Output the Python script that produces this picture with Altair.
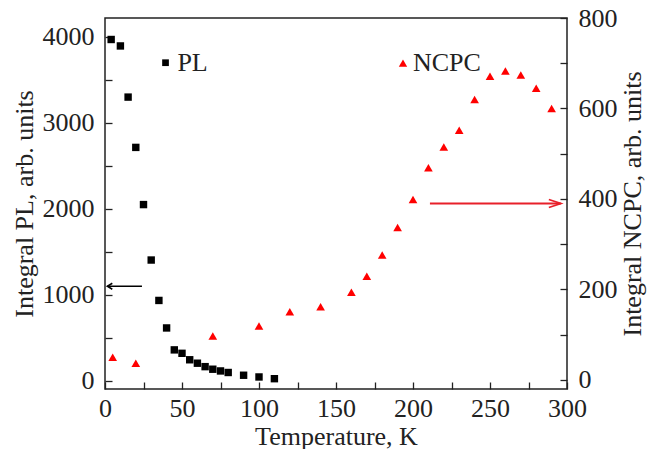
import altair as alt
import pandas as pd

# ---- data ----
temp_pl = [4, 10, 15, 20, 25, 30, 35, 40, 45, 50, 55, 60, 65, 70, 75, 80, 90, 100, 110]
pl_values = [3970, 3895, 3300, 2715, 2050, 1405, 935, 615, 360, 320, 245, 205, 165, 135, 115, 97, 65, 45, 25]

temp_ncpc = [5, 20, 70, 100, 120, 140, 160, 170, 180, 190, 200, 210, 220, 230, 240, 250, 260, 270, 280, 290]
ncpc_values = [50, 37, 97, 119, 151, 162, 194, 229, 276, 337, 399, 469, 515, 552, 620, 671, 683, 674, 645, 600]

x_ticks = list(range(0, 301, 25))
pl_ticks = list(range(0, 4001, 500))
ncpc_ticks = list(range(0, 801, 100))

legend_pl_label = ["PL"]
legend_pl_pos = [39.3, 47, 3700]        # symbol T, text T, value
legend_ncpc_label = ["NCPC"]
legend_ncpc_pos = [193.5, 200, 700]

pl_arrow_T = [24, 1.5]
pl_arrow_val = [1100]
ncpc_arrow_T = [211, 296]
ncpc_arrow_val = [390]

FONT = "Liberation Serif"
TXT = "#222222"
FS = 26

# ---- tables ----
df_pl = pd.DataFrame({"T": temp_pl, "val": pl_values})
df_ncpc = pd.DataFrame({"T": temp_ncpc, "val": ncpc_values})
df_pl_leg_sym = pd.DataFrame({"T": [legend_pl_pos[0]], "val": [legend_pl_pos[2]]})
df_pl_leg_txt = pd.DataFrame({"T": [legend_pl_pos[1]], "val": [legend_pl_pos[2]], "lab": legend_pl_label})
df_nc_leg_sym = pd.DataFrame({"T": [legend_ncpc_pos[0]], "val": [legend_ncpc_pos[2]]})
df_nc_leg_txt = pd.DataFrame({"T": [legend_ncpc_pos[1]], "val": [legend_ncpc_pos[2]], "lab": legend_ncpc_label})
df_pl_arrow = pd.DataFrame({"T": [pl_arrow_T[0]], "T2": [pl_arrow_T[1]], "val": pl_arrow_val})
df_pl_head = pd.DataFrame({"T": [pl_arrow_T[1]], "val": pl_arrow_val})
df_nc_arrow = pd.DataFrame({"T": [ncpc_arrow_T[0]], "T2": [ncpc_arrow_T[1]], "val": ncpc_arrow_val})
df_nc_head = pd.DataFrame({"T": [ncpc_arrow_T[1]], "val": ncpc_arrow_val})

axis_style = dict(labelFont=FONT, labelFontSize=FS, labelColor=TXT,
                  titleFont=FONT, titleFontSize=FS, titleFontWeight="normal", titleColor=TXT,
                  tickColor="#222222", tickWidth=1.3, domain=False, grid=False,
                  tickSize=7, offset=-7, labelFlush=False, labelOverlap=False, format="d")

# ---- scales / axes ----
x_scale = alt.Scale(domain=[0, 300], nice=False, zero=False)
x_axis = alt.Axis(values=x_ticks, labelExpr="datum.value % 50 === 0 ? datum.label : ''",
                  labelPadding=6, title="Temperature, K", titlePadding=2, **axis_style)

yl_scale = alt.Scale(domain=[-95, 4220], nice=False, zero=False)
yl_axis = alt.Axis(orient="left", values=pl_ticks, labelExpr="datum.value % 1000 === 0 ? datum.label : ''",
                   labelPadding=11, title="Integral PL, arb. units", titlePadding=5, **axis_style)

yr_scale = alt.Scale(domain=[-20, 800], nice=False, zero=False)
yr_axis = alt.Axis(orient="right", values=ncpc_ticks, labelExpr="datum.value % 200 === 0 ? datum.label : ''",
                   labelPadding=11, title="Integral NCPC, arb. units", titlePadding=2, titleAngle=270,
                   titleBaseline="top", **axis_style)

X = alt.X("T:Q", scale=x_scale, axis=x_axis)
YL = alt.Y("val:Q", scale=yl_scale, axis=yl_axis)
YR = alt.Y("val:Q", scale=yr_scale, axis=yr_axis)

# ---- left (PL) group ----
pl_points = alt.Chart(df_pl).mark_point(shape="square", filled=True, size=55, color="black", opacity=1).encode(x=X, y=YL)
pl_leg_sym = alt.Chart(df_pl_leg_sym).mark_point(shape="square", filled=True, size=45, color="black", opacity=1).encode(x=X, y=YL)
pl_leg_txt = alt.Chart(df_pl_leg_txt).mark_text(align="left", baseline="middle", font=FONT, fontSize=FS, color=TXT).encode(x=X, y=YL, text="lab:N")
pl_arrow = alt.Chart(df_pl_arrow).mark_rule(color="black", strokeWidth=1.5).encode(x=X, x2="T2:Q", y=YL)
pl_head = alt.Chart(df_pl_head).mark_point(shape="M2,-1.2L0,0L2,1.2", size=25, filled=False, color="black",
                                          strokeWidth=1.5, opacity=1).encode(x=X, y=YL)
left = alt.layer(pl_arrow, pl_head, pl_points, pl_leg_sym, pl_leg_txt)

# ---- right (NCPC) group ----
nc_points = alt.Chart(df_ncpc).mark_point(shape="triangle-up", filled=True, size=75, color="#ff0000", opacity=1).encode(x=X, y=YR)
nc_leg_sym = alt.Chart(df_nc_leg_sym).mark_point(shape="triangle-up", filled=True, size=70, color="#ff0000", opacity=1).encode(x=X, y=YR)
nc_leg_txt = alt.Chart(df_nc_leg_txt).mark_text(align="left", baseline="middle", font=FONT, fontSize=FS, color=TXT).encode(x=X, y=YR, text="lab:N")
nc_arrow = alt.Chart(df_nc_arrow).mark_rule(color="#e8202a", strokeWidth=1.8).encode(x=X, x2="T2:Q", y=YR)
nc_head = alt.Chart(df_nc_head).mark_point(shape="M-4,-1.33L0,0L-4,1.33", size=36, filled=False, color="#e8202a",
                                          strokeWidth=1.8, opacity=1).encode(x=X, y=YR)
right = alt.layer(nc_arrow, nc_head, nc_points, nc_leg_sym, nc_leg_txt)

chart = (
    alt.layer(left, right)
    .resolve_scale(y="independent")
    .properties(width=462, height=371, background="white",
                autosize=alt.AutoSizeParams(type="none"),
                padding={"left": 97, "top": 10, "right": 82, "bottom": 60})
    .configure_view(stroke="#222222", strokeWidth=1.5)
)

chart.save("out.html", embed_options={"renderer": "svg", "actions": False})
